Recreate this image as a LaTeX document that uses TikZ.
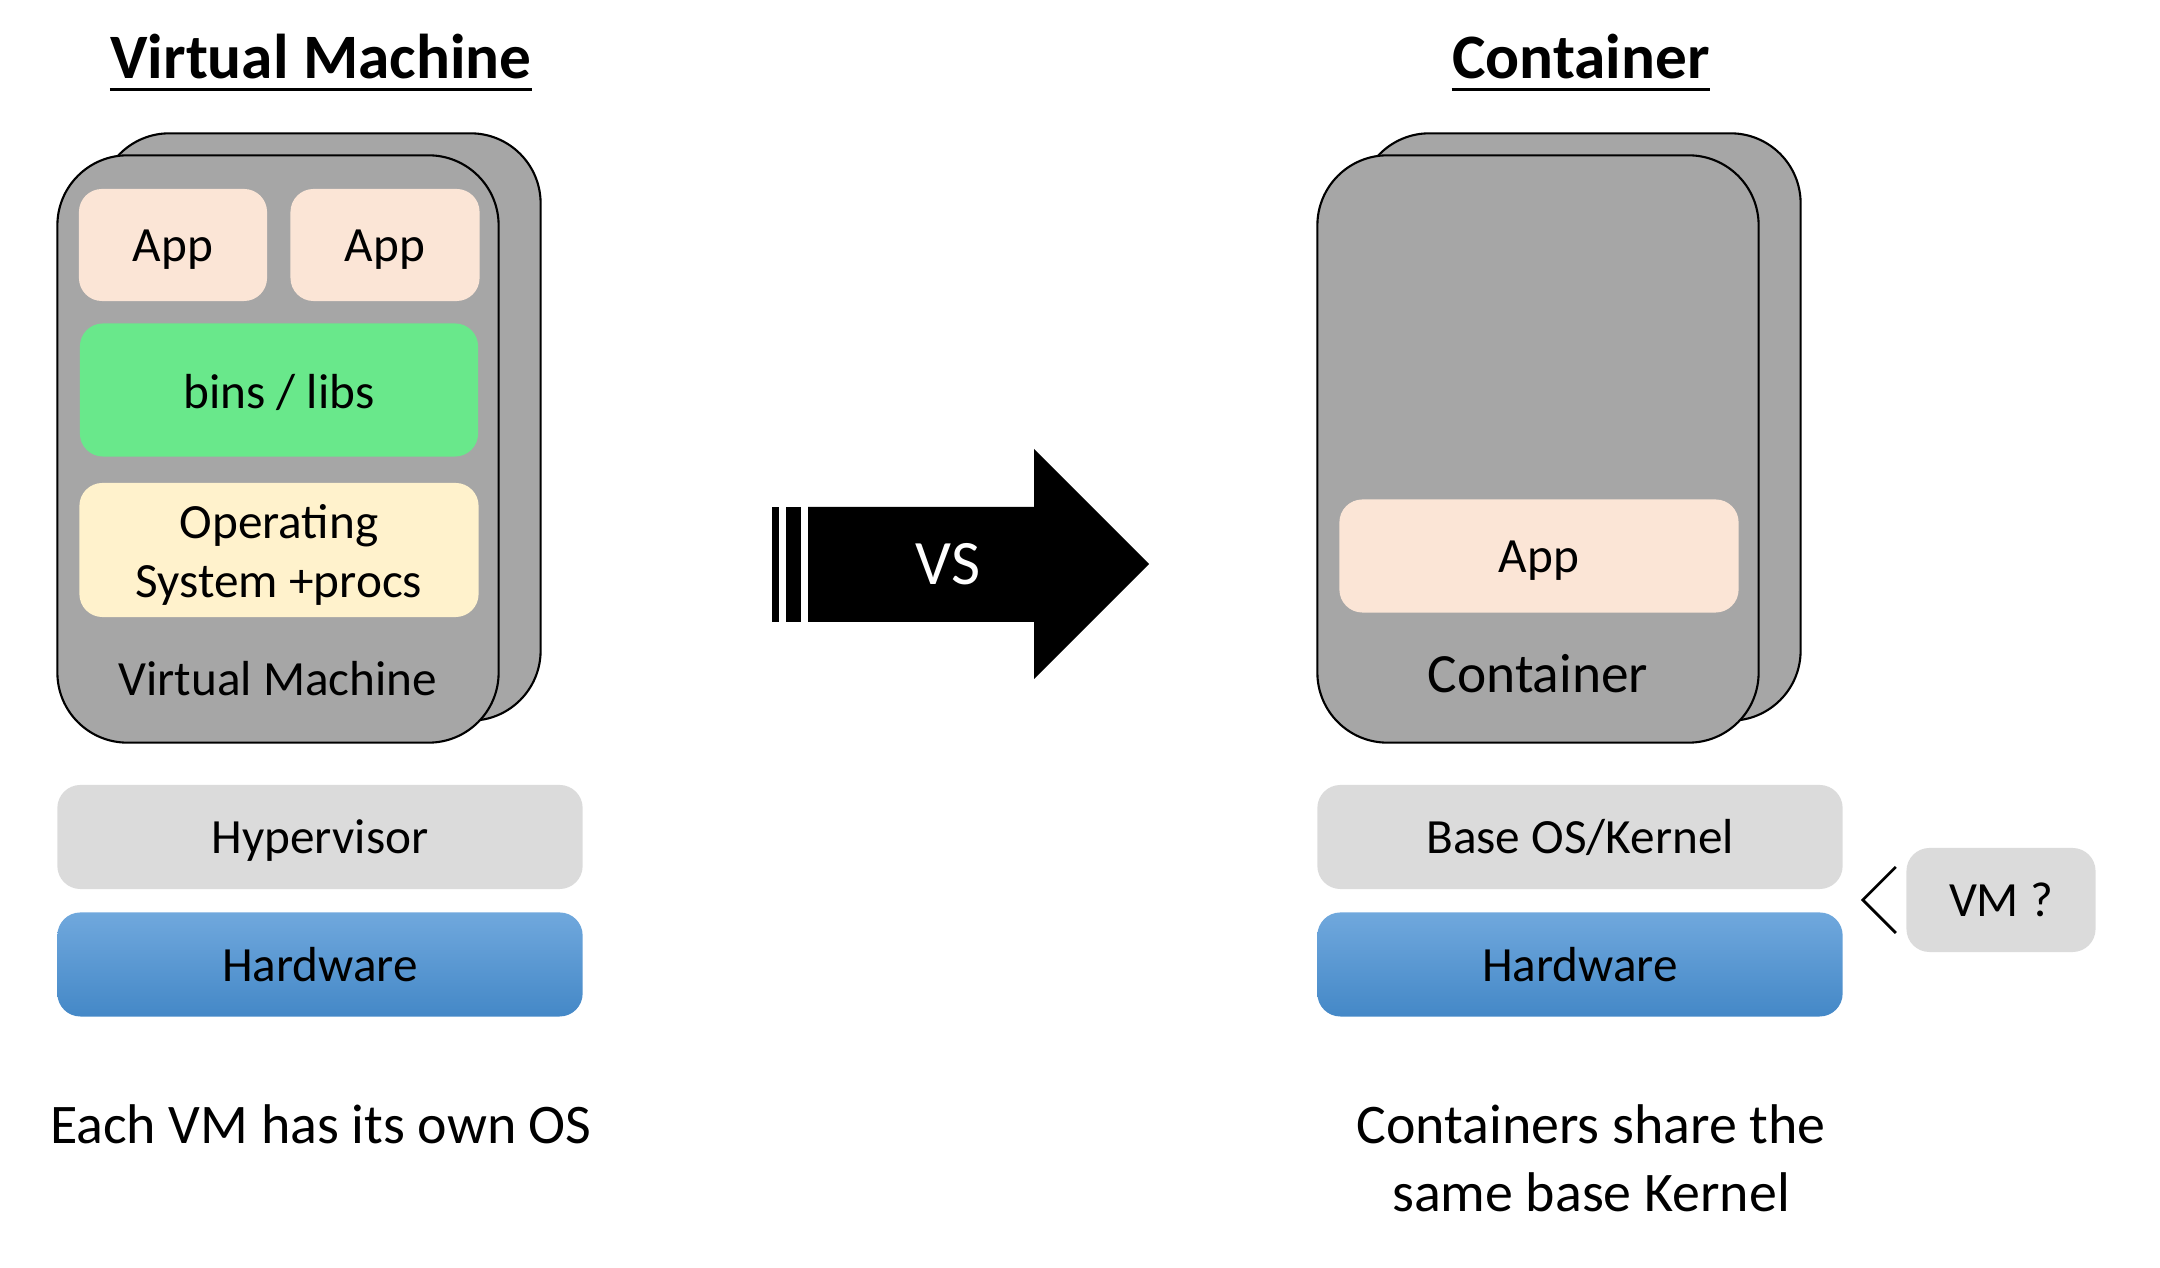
\documentclass[tikz,border=0pt]{standalone}
\usepackage{fontspec}
\setmainfont{Carlito}
\usetikzlibrary{positioning}
\definecolor{cardgray}{RGB}{166,166,166}
\definecolor{appfill}{RGB}{251,229,214}
\definecolor{libfill}{RGB}{105,232,139}
\definecolor{osfill}{RGB}{255,242,204}
\definecolor{layergray}{RGB}{219,219,219}
\definecolor{hwtop}{RGB}{112,168,221}
\definecolor{hwbot}{RGB}{68,136,199}
\newcommand{\boxfont}{\fontsize{14pt}{16.8pt}\selectfont}
\newcommand{\headfont}{\fontsize{18pt}{22pt}\selectfont\bfseries}
\newcommand{\notefont}{\fontsize{15.9pt}{19.6pt}\selectfont}

\begin{document}
\begin{tikzpicture}[x=0.01cm,y=-0.01cm,
    card/.style={draw,line width=0.6pt,fill=cardgray,rounded corners=0.7cm,
      minimum width=4.41cm,minimum height=5.87cm,inner sep=0pt},
    tile/.style={rounded corners=0.23cm,inner sep=0pt,font=\boxfont,align=center},
    oneline/.style={text height=1.2em,text depth=0.25em},
    apptile/.style={tile,oneline,fill=appfill,minimum height=1.12cm},
    layer/.style={tile,oneline,fill=layergray,minimum width=5.25cm,minimum height=1.04cm},
    hwlayer/.style={tile,oneline,top color=hwtop,bottom color=hwbot,
      minimum width=5.25cm,minimum height=1.04cm},
    heading/.style={inner sep=0pt,font=\headfont,anchor=base}]
  \useasboundingbox (0,0) rectangle (2160,1268);
  % virtual machine
  \node (vmtitle) [heading] at (321,79) {Virtual Machine};
  \draw[line width=0.85pt] ([yshift=-2.9pt]vmtitle.base west) -- ([yshift=-2.9pt]vmtitle.base east);
  \node (vmback) [card] at (320,427) {};
  \node (vmfront) [card] at (278,449) {};
  \node (app1) [apptile,minimum width=1.88cm] at (173,245) {App};
  \node (app2) [apptile,minimum width=1.89cm,right=0.22cm of app1] {App};
  \node (libs) [tile,oneline,text height=1.3em,fill=libfill,minimum width=3.98cm,minimum height=1.33cm] at (279,390) {bins / libs};
  \node (os) [tile,fill=osfill,minimum width=3.99cm,minimum height=1.34cm,text height=30.4pt,text depth=3.5pt,below=0.25cm of libs] {Operating\\System +procs};
  \node (vmlabel) [font=\boxfont,inner sep=0pt,anchor=base] at (278,696) {Virtual Machine};
  \node (hyp) [layer] at (320,837) {Hypervisor};
  \node (vmhw) [hwlayer,below=0.22cm of hyp] {Hardware};
  \node (vmnote) [font=\notefont,inner sep=0pt,anchor=base] at (321,1144) {Each VM has its own OS};
  % versus arrow
  \fill (772,507) rectangle (779,622);
  \fill (786,507) rectangle (801,622);
  \fill (808,507) -- (1034,507) -- (1034,449) -- (1149,564) -- (1034,679) -- (1034,622) -- (808,622) -- cycle;
  \node (vs) [white,font=\fontsize{18pt}{22pt}\selectfont,inner sep=0pt,anchor=base] at (948,585) {VS};
  % container
  \node (cttitle) [heading] at (1581,79) {Container};
  \draw[line width=0.85pt] ([yshift=-2.9pt]cttitle.base west) -- ([yshift=-2.9pt]cttitle.base east);
  \node (ctback) [card] at (1580,427) {};
  \node (ctfront) [card] at (1538,449) {};
  \node (ctapp) [apptile,minimum width=3.99cm,minimum height=1.13cm] at (1539,556) {App};
  \node (ctlabel) [font=\fontsize{15.75pt}{19pt}\selectfont,inner sep=0pt,anchor=base] at (1538,693) {Container};
  \node (kernel) [layer] at (1580,837) {Base OS/Kernel};
  \node (cthw) [hwlayer,below=0.22cm of kernel] {Hardware};
  \node (vmq) [layer,minimum width=1.89cm] at (2001,900) {VM ?};
  \draw[line width=0.8pt] ([shift={(-10,-33)}]vmq.west) -- ([shift={(-43,0)}]vmq.west) -- ([shift={(-10,33)}]vmq.west);
  \node (ctnote) [font=\notefont,inner sep=0pt,align=center,anchor=base] at (1591,1212) {Containers share the\\same base Kernel};
\end{tikzpicture}
\end{document}
